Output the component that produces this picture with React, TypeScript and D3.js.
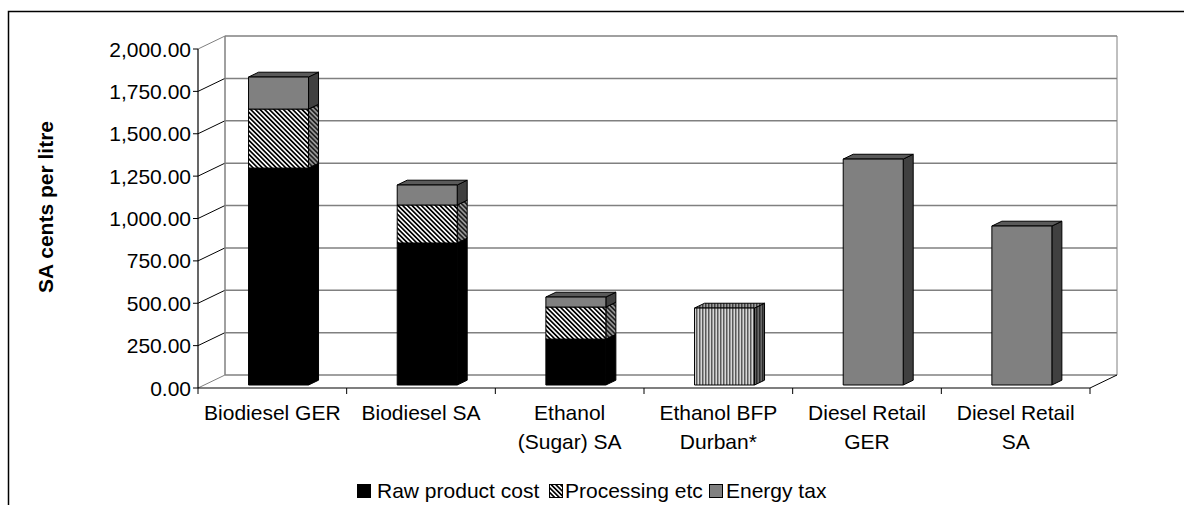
import React from "react";
import * as d3 from "d3";

const categories: string[][] = [
  ["Biodiesel GER"],
  ["Biodiesel SA"],
  ["Ethanol", "(Sugar) SA"],
  ["Ethanol BFP", "Durban*"],
  ["Diesel Retail", "GER"],
  ["Diesel Retail", "SA"],
];
const rawProductCost = [1280, 838, 271, 0, 0, 0];
const processingEtc = [348, 224, 189, 0, 0, 0];
const energyTax = [189, 118, 59, 0, 1333, 938];
const bfpDurban = [0, 0, 0, 454, 0, 0];
const yTicks = [0, 250, 500, 750, 1000, 1250, 1500, 1750, 2000];
const legendLabels = ["Raw product cost", "Processing etc", "Energy tax"];
const yTitle = "SA cents per litre";

const W = 1184;
const H = 505;
const DX = 27;
const DY = -13;
const F0 = 0.23;
const F1 = 0.6;
const HALF = 30;
const FONT = "'Liberation Sans', Arial, sans-serif";
const FS = 21;

type Style = { front: string; side: string; top: string };
const styles: Style[] = [
  { front: "#000", side: "#000", top: "#000" },
  { front: "url(#hatch)", side: "url(#hatchSide)", top: "url(#hatchSide)" },
  { front: "#808080", side: "#404040", top: "#5a5a5a" },
  { front: "url(#vstripe)", side: "url(#vstripeSide)", top: "url(#vstripeTop)" },
];
const seriesList = [rawProductCost, processingEtc, energyTax, bfpDurban];

export default function App() {
  const x = d3
    .scaleBand<number>()
    .domain(d3.range(categories.length))
    .range([198, 1090]);
  const y = d3.scaleLinear().domain([0, 2000]).range([388, 49]);
  const bw = x.bandwidth();
  const fmt = d3.format(",.2f");
  const x0 = 198;
  const x1 = 1090;

  const bars: JSX.Element[] = [];
  categories.forEach((_, i) => {
    const cx = (x(i) as number) + bw / 2;
    let base = 0;
    seriesList.forEach((vals, s) => {
      const v = vals[i];
      if (!v) return;
      const v0 = base;
      const v1 = base + v;
      base = v1;
      const st = styles[s];
      const xl0 = cx - HALF + F0 * DX;
      const xr0 = cx + HALF + F0 * DX;
      const xl1 = cx - HALF + F1 * DX;
      const xr1 = cx + HALF + F1 * DX;
      const yt0 = y(v1) + F0 * DY;
      const yb0 = y(v0) + F0 * DY;
      const yt1 = y(v1) + F1 * DY;
      const yb1 = y(v0) + F1 * DY;
      bars.push(
        <g key={`b${i}-${s}`} stroke="#000" strokeWidth={1} strokeLinejoin="round">
          <polygon
            points={`${xr0},${yt0} ${xr1},${yt1} ${xr1},${yb1} ${xr0},${yb0}`}
            fill={st.side}
          />
          <polygon
            points={`${xl0},${yt0} ${xr0},${yt0} ${xr1},${yt1} ${xl1},${yt1}`}
            fill={st.top}
          />
          <rect x={xl0} y={yt0} width={xr0 - xl0} height={yb0 - yt0} fill={st.front} />
        </g>
      );
    });
  });

  const legendX = [357, 549, 709];
  const legendTextX = [377, 565, 726];

  return (
    <svg
      width={W}
      height={H}
      style={{ position: "absolute", left: 0, top: 0, background: "#fff" }}
      fontFamily={FONT}
    >
      <defs>
        <pattern id="hatch" patternUnits="userSpaceOnUse" width={3.3} height={10} patternTransform="rotate(-45)">
          <rect width={3.3} height={10} fill="#fff" />
          <rect width={1.7} height={10} fill="#000" />
        </pattern>
        <pattern id="hatchSide" patternUnits="userSpaceOnUse" width={3.3} height={10} patternTransform="rotate(-45)">
          <rect width={3.3} height={10} fill="#9a9a9a" />
          <rect width={1.7} height={10} fill="#202020" />
        </pattern>
        <pattern id="vstripe" patternUnits="userSpaceOnUse" width={3} height={10}>
          <rect width={3} height={10} fill="#d8d8d8" />
          <rect width={1.5} height={10} fill="#5a5a5a" />
        </pattern>
        <pattern id="vstripeSide" patternUnits="userSpaceOnUse" width={3} height={10}>
          <rect width={3} height={10} fill="#6a6a6a" />
          <rect width={1.5} height={10} fill="#2a2a2a" />
        </pattern>
        <pattern id="vstripeTop" patternUnits="userSpaceOnUse" width={3} height={10}>
          <rect width={3} height={10} fill="#a0a0a0" />
          <rect width={1.5} height={10} fill="#404040" />
        </pattern>
      </defs>

      {/* outer frame */}
      <rect x={8.5} y={11.5} width={1300} height={600} fill="none" stroke="#000" strokeWidth={1.5} />

      {/* back wall gridlines */}
      {yTicks.map((t) => (
        <line
          key={`g${t}`}
          x1={x0 + DX}
          x2={x1 + DX}
          y1={y(t) + DY}
          y2={y(t) + DY}
          stroke="#808080"
          strokeWidth={1.5}
        />
      ))}
      {/* side wall lines */}
      {yTicks.map((t) => (
        <line
          key={`s${t}`}
          x1={x0}
          x2={x0 + DX}
          y1={y(t)}
          y2={y(t) + DY}
          stroke={t === 0 || t === 2000 ? "#808080" : "#000"}
          strokeWidth={1}
        />
      ))}
      {/* back wall verticals */}
      <line x1={x0 + DX} x2={x0 + DX} y1={y(0) + DY} y2={y(2000) + DY} stroke="#808080" strokeWidth={1.5} />
      <line x1={x1 + DX} x2={x1 + DX} y1={y(0) + DY} y2={y(2000) + DY} stroke="#808080" strokeWidth={1} />
      {/* floor right edge */}
      <line x1={x1} x2={x1 + DX} y1={y(0)} y2={y(0) + DY} stroke="#000" strokeWidth={1} />

      {bars}

      {/* value axis */}
      <line x1={x0} x2={x0} y1={y(0)} y2={y(2000)} stroke="#000" strokeWidth={1.2} />
      {yTicks.map((t) => (
        <g key={`yt${t}`}>
          <line x1={x0 - 5} x2={x0} y1={y(t)} y2={y(t)} stroke="#000" />
          <text x={x0 - 7} y={y(t)} dy="0.36em" textAnchor="end" fontSize={FS} fill="#000">
            {fmt(t)}
          </text>
        </g>
      ))}
      {/* category axis */}
      <line x1={x0} x2={x1} y1={y(0)} y2={y(0)} stroke="#000" strokeWidth={1.2} />
      {d3.range(categories.length + 1).map((k) => (
        <line key={`ct${k}`} x1={x0 + k * bw} x2={x0 + k * bw} y1={y(0)} y2={y(0) + 6} stroke="#000" />
      ))}
      {categories.map((lines, i) => (
        <text key={`c${i}`} textAnchor="middle" fontSize={FS} fill="#000">
          {lines.map((ln, j) => (
            <tspan key={j} x={(x(i) as number) + bw / 2} y={420 + j * 29}>
              {ln}
            </tspan>
          ))}
        </text>
      ))}

      {/* axis title */}
      <text
        transform={`translate(53, ${207}) rotate(-90)`}
        textAnchor="middle"
        fontSize={FS}
        fontWeight="bold"
        fill="#000"
      >
        {yTitle}
      </text>

      {/* legend */}
      {legendLabels.map((lb, k) => (
        <g key={`l${k}`}>
          <rect
            x={legendX[k] + 0.5}
            y={484.5}
            width={13}
            height={13}
            fill={k === 0 ? "#000" : k === 1 ? "url(#hatch)" : "#808080"}
            stroke="#000"
          />
          <text x={legendTextX[k]} y={498} fontSize={FS} fill="#000">
            {lb}
          </text>
        </g>
      ))}
    </svg>
  );
}
